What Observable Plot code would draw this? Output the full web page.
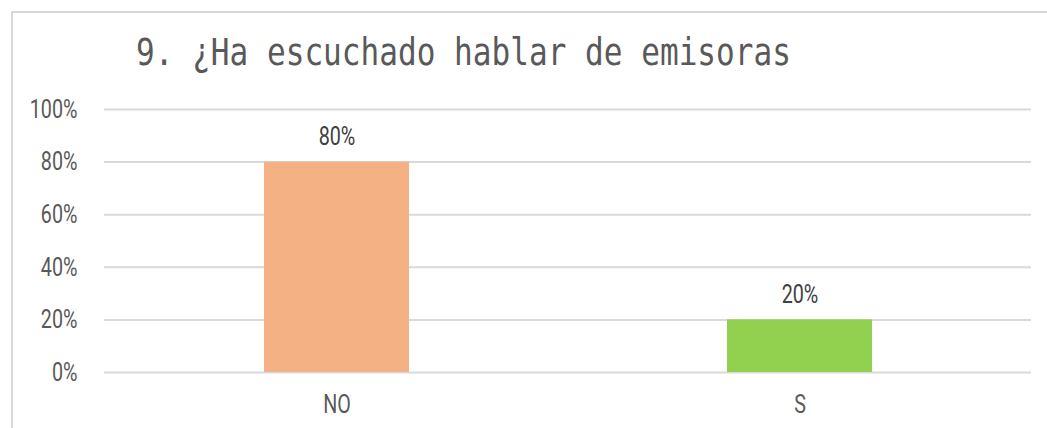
<!DOCTYPE html>
<html>
<head>
<meta charset="utf-8">
<script src="https://cdn.jsdelivr.net/npm/d3@7"></script>
<script src="https://cdn.jsdelivr.net/npm/@observablehq/plot@0.6"></script>
<style>
  html, body { margin: 0; padding: 0; background: #fff; }
  #wrap { position: relative; width: 1047px; height: 428px; overflow: hidden; }
  #frame { position: absolute; left: 11px; top: 11px; width: 1100px; height: 500px;
           border-left: 2px solid #d9d9d9; border-top: 2px solid #d9d9d9; }
  #title { position: absolute; left: 136px; top: 31px; font-family: "DejaVu Sans Mono", "Liberation Mono", monospace;
           font-size: 37px; color: #595959; white-space: nowrap; transform: scaleX(0.84); transform-origin: left top; }
  #chart { position: absolute; left: 0; top: 0; }
  #chart text { font-family: "Roboto", sans-serif; }
</style>
</head>
<body>
<div id="wrap">
  <div id="frame"></div>
  <div id="chart"></div>
  <div id="title">9. ¿Ha escuchado hablar de emisoras</div>
</div>
<script>
const categories = ["NO", "S"];
const values = [0.80, 0.20];
const colors = ["#F4B183", "#92D050"];
const valueLabels = ["80%", "20%"];
const yTicks = [0, 0.2, 0.4, 0.6, 0.8, 1.0];

const data = categories.map((c, i) => ({cat: c, value: values[i], color: colors[i], label: valueLabels[i]}));

const chart = Plot.plot({
  width: 1047,
  height: 428,
  marginLeft: 104,
  marginRight: 16,
  marginTop: 109,
  marginBottom: 56,
  style: {fontSize: "26px", color: "#595959", background: "transparent", overflow: "visible"},
  x: {domain: categories, paddingInner: 0.6875, paddingOuter: 0.34375, label: null},
  y: {domain: [0, 1], ticks: yTicks, label: null, tickFormat: d => Math.round(d * 100) + "%"},
  marks: [
    Plot.gridY(yTicks, {stroke: "#d9d9d9", strokeOpacity: 1, strokeWidth: 2}),
    Plot.barY(data, {x: "cat", y: "value", fill: "color"}),
    Plot.text(data, {x: "cat", y: "value", text: "label", dy: -25, fill: "#404040", fontSize: 26}),
    Plot.axisY({ticks: yTicks, tickSize: 0, tickPadding: 27, tickFormat: d => Math.round(d * 100) + "%", fill: "#595959", fontSize: 26}),
    Plot.axisX({tickSize: 0, tickPadding: 22, fill: "#595959", fontSize: 26})
  ]
});
// condense the text horizontally (narrow font look)
d3.select(chart).selectAll("text").each(function() {
  const t = this.getAttribute("transform") || "";
  this.setAttribute("transform", t + " scale(0.76,1)");
});
document.getElementById("chart").appendChild(chart);
</script>
</body>
</html>
